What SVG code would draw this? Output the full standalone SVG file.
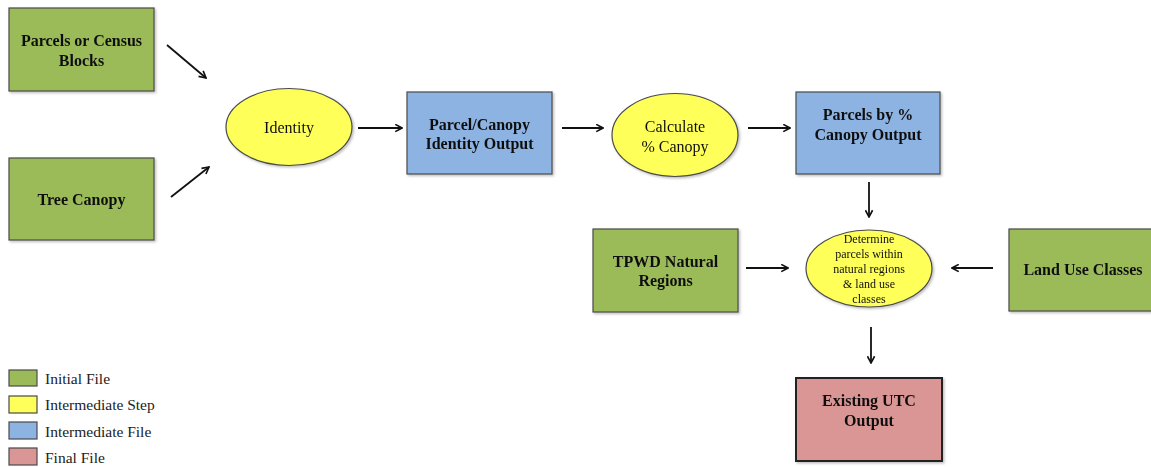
<svg xmlns="http://www.w3.org/2000/svg" width="1151" height="467" viewBox="0 0 1151 467">
  <style>
    .box { stroke: #4a4a4a; stroke-width: 1.2; }
    .initial { fill: #9bbb59; }
    .step { fill: #ffff5a; stroke: #4a4a4a; stroke-width: 1.2; }
    .file { fill: #8db3e2; }
    .final { fill: #d99694; stroke: #222; stroke-width: 2; }
    .lbl { font-family: "Liberation Serif", "Times New Roman", serif; font-size: 16px; font-weight: bold; fill: #111; text-anchor: middle; }
    .stp { font-family: "Liberation Serif", "Times New Roman", serif; font-size: 16px; fill: #111; text-anchor: middle; }
    .small { font-family: "Liberation Serif", "Times New Roman", serif; font-size: 12px; fill: #111; text-anchor: middle; }
    .leg { font-family: "Liberation Serif", "Times New Roman", serif; font-size: 15.5px; fill: #222; }
    .conn line { stroke: #111; stroke-width: 1.8; marker-end: url(#arrow); }
  </style>
  <defs>
    <marker id="arrow" viewBox="0 0 10 10" refX="9" refY="5" markerWidth="9" markerHeight="9" markerUnits="userSpaceOnUse" orient="auto">
      <path d="M1.5,1 L9,5 L1.5,9" fill="none" stroke="#111" stroke-width="1.8"/>
    </marker>
    <filter id="shadow" x="-5%" y="-5%" width="115%" height="115%">
      <feDropShadow dx="1.5" dy="1.5" stdDeviation="1" flood-color="#000" flood-opacity="0.25"/>
    </filter>
  </defs>
  <rect width="1151" height="467" fill="#ffffff"/>

  <g id="parcels" filter="url(#shadow)">
    <rect class="box initial" x="9" y="8" width="145" height="83"/>
    <text class="lbl" x="81.5" y="46">Parcels or Census</text>
    <text class="lbl" x="81.5" y="66">Blocks</text>
  </g>

  <g id="tree-canopy" filter="url(#shadow)">
    <rect class="box initial" x="9" y="158" width="145" height="82"/>
    <text class="lbl" x="81.5" y="205">Tree Canopy</text>
  </g>

  <g id="identity" filter="url(#shadow)">
    <ellipse class="step" cx="289" cy="127" rx="63" ry="38.5"/>
    <text class="stp" x="289" y="133">Identity</text>
  </g>

  <g id="identity-output" filter="url(#shadow)">
    <rect class="box file" x="407" y="92" width="145" height="82"/>
    <text class="lbl" x="479.5" y="130">Parcel/Canopy</text>
    <text class="lbl" x="479.5" y="149">Identity Output</text>
  </g>

  <g id="calc-canopy" filter="url(#shadow)">
    <ellipse class="step" cx="675" cy="135" rx="63" ry="41.5"/>
    <text class="stp" x="675" y="132">Calculate</text>
    <text class="stp" x="675" y="152">% Canopy</text>
  </g>

  <g id="canopy-output" filter="url(#shadow)">
    <rect class="box file" x="796" y="92" width="144" height="82"/>
    <text class="lbl" x="868" y="120">Parcels by %</text>
    <text class="lbl" x="868" y="140">Canopy Output</text>
  </g>

  <g id="natural-regions" filter="url(#shadow)">
    <rect class="box initial" x="593" y="229" width="145" height="83"/>
    <text class="lbl" x="665.5" y="267">TPWD Natural</text>
    <text class="lbl" x="665.5" y="286">Regions</text>
  </g>

  <g id="determine" filter="url(#shadow)">
    <ellipse class="step" cx="869" cy="268.5" rx="63" ry="38.5"/>
    <text class="small" x="869" y="243">Determine</text>
    <text class="small" x="869" y="258">parcels  within</text>
    <text class="small" x="869" y="273">natural regions</text>
    <text class="small" x="869" y="288">&amp; land use</text>
    <text class="small" x="869" y="303">classes</text>
  </g>

  <g id="land-use" filter="url(#shadow)">
    <rect class="box initial" x="1009" y="229" width="150" height="82"/>
    <text class="lbl" x="1083" y="275">Land Use Classes</text>
  </g>

  <g id="utc-output" filter="url(#shadow)">
    <rect class="final" x="796" y="378" width="146" height="83"/>
    <text class="lbl" x="869" y="406">Existing UTC</text>
    <text class="lbl" x="869" y="426">Output</text>
  </g>

  <g id="connectors" class="conn">
    <line x1="167" y1="45" x2="206" y2="78"/>
    <line x1="171" y1="197" x2="209" y2="167"/>
    <line x1="358" y1="128" x2="402" y2="128"/>
    <line x1="562" y1="128" x2="603" y2="128"/>
    <line x1="748" y1="128" x2="790" y2="128"/>
    <line x1="869" y1="182" x2="869" y2="217"/>
    <line x1="746" y1="268" x2="788" y2="268"/>
    <line x1="993" y1="268" x2="952" y2="268"/>
    <line x1="871" y1="327" x2="871" y2="363"/>
  </g>

  <g id="legend">
    <rect class="box initial" x="9" y="370" width="28" height="16"/>
    <text class="leg" x="45" y="384">Initial File</text>
    <rect class="step" x="9" y="396" width="28" height="17"/>
    <text class="leg" x="45" y="410">Intermediate Step</text>
    <rect class="box file" x="9" y="422" width="28" height="17"/>
    <text class="leg" x="45" y="437">Intermediate File</text>
    <rect class="box" fill="#d99694" x="9" y="448" width="28" height="17"/>
    <text class="leg" x="45" y="463">Final File</text>
  </g>
</svg>
